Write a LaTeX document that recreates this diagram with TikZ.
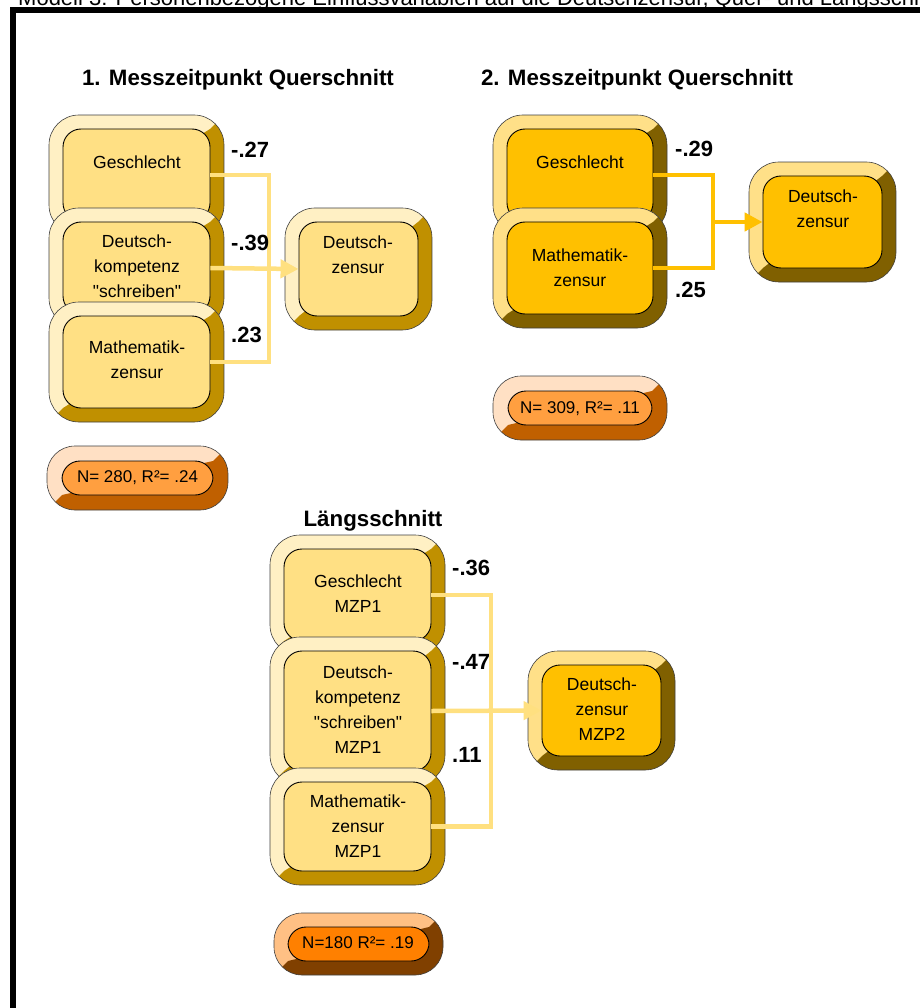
\documentclass[tikz,border=0pt]{standalone}
\usepackage{fontspec}
\setmainfont{Liberation Sans}[Ligatures=TeXOff]
\usetikzlibrary{arrows.meta}
\definecolor{Yfill}{HTML}{FFE084}
\definecolor{Ylight}{HTML}{FFF0C4}
\definecolor{Ydark}{HTML}{C09000}
\definecolor{Afill}{HTML}{FFC000}
\definecolor{Alight}{HTML}{FFE088}
\definecolor{Adark}{HTML}{806000}
\definecolor{Pfill}{HTML}{FF9F40}
\definecolor{Plight}{HTML}{FFE0C4}
\definecolor{Pdark}{HTML}{C06000}
\definecolor{Qfill}{HTML}{FF8000}
\definecolor{Qlight}{HTML}{FFC084}
\definecolor{Qdark}{HTML}{804000}
\definecolor{connY}{HTML}{FFE080}
\definecolor{connA}{HTML}{FFC000}
\tikzset{
  outerline/.style={draw=black!75, line width=0.6pt},
  innerbox/.style={draw=black, line width=0.9pt, rounded corners=18pt, inner sep=0pt, rectangle},
  boxtxt/.style={font=\fontsize{17.5}{24.8}\selectfont, align=center, inner sep=0pt},
  stattxt/.style={font=\fontsize{17}{20}\selectfont, inner sep=0pt},
  coef/.style={font=\bfseries\fontsize{22}{24}\selectfont, inner sep=0pt, anchor=west},
  sectitle/.style={font=\bfseries\fontsize{22.3}{24}\selectfont, inner sep=0pt},
  connY/.style={draw=connY, line width=4.5pt, line join=miter},
  connA/.style={draw=connA, line width=4.5pt, line join=miter},
  tip/.style={-{Triangle[length=18pt,width=18pt]}}
}
% #1 name, #2 x1, #3 y1, #4 x2, #5 y2, #6 scheme, #7 bevel, #8 outer radius
\newcommand{\bevbox}[8]{%
  \begin{scope}
    \clip[rounded corners=#8] (#2,#3) rectangle (#4,#5);
    \fill[#6light] (#2,#3) rectangle (#4,#5);
    \fill[#6dark] (#4,#3) -- ({#4-#7},{#3+#7}) -- ({#2+#7},{#5-#7}) -- (#2,#5) -- (#4,#5) -- cycle;
  \end{scope}
  \draw[outerline, rounded corners=#8] (#2,#3) rectangle (#4,#5);
  \node[innerbox, fill=#6fill, minimum width={#4-#2-2*#7}, minimum height={#5-#3-2*#7}] (#1) at ({(#2+#4)/2},{(#3+#5)/2}) {};
}
\begin{document}
\begin{tikzpicture}[x=1pt,y=-1pt]
\useasboundingbox (0,0) rectangle (919,1008);
\fill[white] (0,0) rectangle (919,1008);
% caption (cut at top, as in the reference)
\node[anchor=base west, inner sep=0pt, font=\fontsize{22}{24}\selectfont] (caption) at (18,6) {Modell 3: Personenbezogene Einflussvariablen auf die Deutschzensur, Quer- und Längsschnitt};
% frame
\draw[line width=5.5pt] (13,9.8) rectangle (940,1030);

% ===== Section 1 =====
\node[sectitle] (title1) at (238,80) {1. Messzeitpunkt Querschnitt};
\bevbox{g1}{49}{115}{224}{235}{Y}{14}{30pt}
\node[boxtxt] (g1t) at (137,162) {Geschlecht};
\bevbox{d1}{49}{208}{224}{328}{Y}{14}{30pt}
\node[boxtxt] (d1t) at (137,266) {Deutsch-\\kompetenz\\"schreiben"};
\bevbox{m1}{49}{302}{224}{422}{Y}{14}{30pt}
\node[boxtxt] (m1t) at (137,360) {Mathematik-\\zensur};
\bevbox{t1}{285}{208}{432}{330}{Y}{14}{30pt}
\node[boxtxt] (t1t) at (358,255) {Deutsch-\\zensur};
\coordinate (bus1) at (269,0);
\draw[connY] (g1.east) -- (g1.east -| bus1) -- (m1.east -| bus1) -- (m1.east);
\draw[connY, tip] (d1.east) -- (t1.west);
\node[coef] (c11) at (231,150) {-.27};
\node[coef] (c12) at (231,243) {-.39};
\node[coef] (c13) at (231,335) {.23};
\bevbox{s1}{47}{446}{228}{510}{P}{15}{28pt}
\node[stattxt] (s1t) at (137.5,478) {N= 280, R²= .24};

% ===== Section 2 =====
\node[sectitle] (title2) at (637,80) {2. Messzeitpunkt Querschnitt};
\bevbox{g2}{493}{115}{667}{235}{A}{14}{30pt}
\node[boxtxt] (g2t) at (580,162) {Geschlecht};
\bevbox{m2}{493}{208}{667}{328}{A}{14}{30pt}
\node[boxtxt] (m2t) at (580,267.5) {Mathematik-\\zensur};
\bevbox{t2}{749}{162}{896}{282}{A}{14}{30pt}
\node[boxtxt] (t2t) at (823,209) {Deutsch-\\zensur};
\coordinate (bus2) at (713,0);
\draw[connA] (g2.east) -- (g2.east -| bus2) -- (m2.east -| bus2) -- (m2.east);
\draw[connA, tip] (t2.west -| bus2) -- (t2.west);
\node[coef] (c21) at (675,149) {-.29};
\node[coef] (c22) at (675,290) {.25};
\bevbox{s2}{493}{376}{667}{440}{P}{15}{28pt}
\node[stattxt] (s2t) at (580,409) {N= 309, R²= .11};

% ===== Section 3 =====
\node[sectitle] (title3) at (373,521) {Längsschnitt};
\bevbox{g3}{270}{535}{445}{655}{Y}{14}{30pt}
\node[boxtxt] (g3t) at (358,593.5) {Geschlecht\\MZP1};
\bevbox{d3}{270}{637}{445}{785}{Y}{14}{30pt}
\node[boxtxt] (d3t) at (358,709.5) {Deutsch-\\kompetenz\\"schreiben"\\MZP1};
\bevbox{m3}{270}{768}{445}{885}{Y}{14}{30pt}
\node[boxtxt] (m3t) at (358,826) {Mathematik-\\zensur\\MZP1};
\bevbox{t3}{528}{651}{675}{770}{A}{14}{30pt}
\node[boxtxt] (t3t) at (602,709) {Deutsch-\\zensur\\MZP2};
\coordinate (bus3) at (491,0);
\draw[connY] (g3.east) -- (g3.east -| bus3) -- (m3.east -| bus3) -- (m3.east);
\draw[connY, tip] (d3.east) -- (t3.west);
\node[coef] (c31) at (452,568) {-.36};
\node[coef] (c32) at (452,662) {-.47};
\node[coef] (c33) at (452,755) {.11};
\bevbox{s3}{274}{913}{443}{975}{Q}{14}{28pt}
\node[stattxt] (s3t) at (358,943) {N=180 R²= .19};
\end{tikzpicture}
\end{document}
